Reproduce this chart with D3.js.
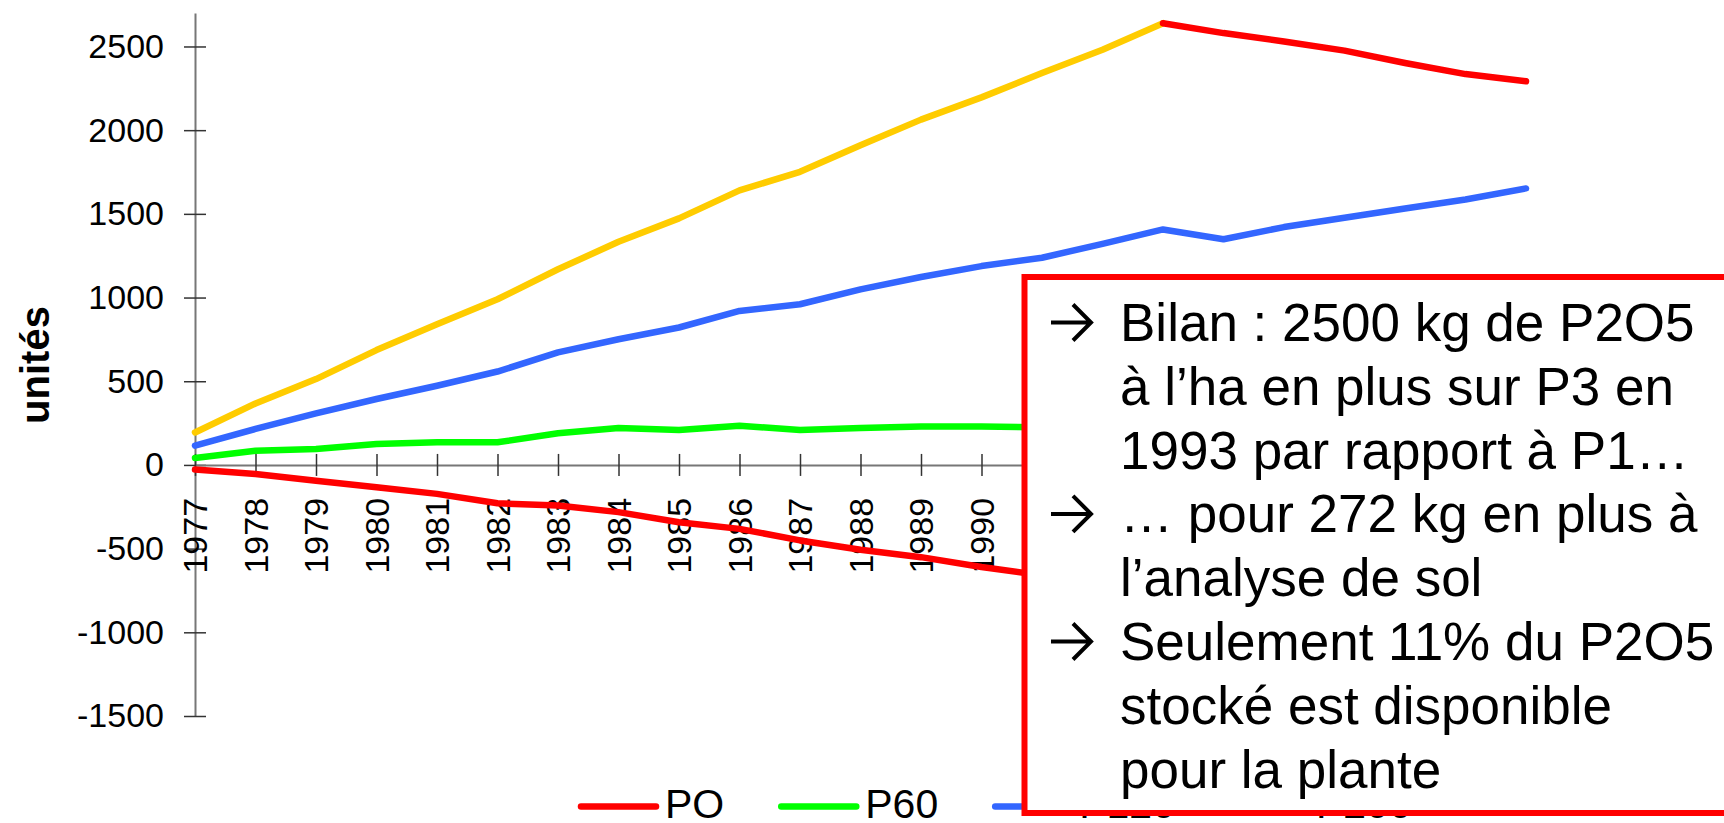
<!DOCTYPE html>
<html>
<head>
<meta charset="utf-8">
<script src="https://cdn.jsdelivr.net/npm/d3@7"></script>
<style>
  body { margin: 0; background: #fff; }
  svg text { font-family: "Liberation Sans", Arial, sans-serif; fill: #000; }
</style>
</head>
<body>
<svg id="chart" width="1724" height="823"></svg>
<script>
let svg = d3.select("#chart");

let years = d3.range(1977, 2000).map(String);
let y_ticks = [-1500, -1000, -500, 0, 500, 1000, 1500, 2000, 2500];

let series_names = ["PO", "P60", "P120", "P200"];
let series_colors = ["#ff0000", "#00ff00", "#3366ff", "#ffcc00"];

let p0 = [-28, -54, -94, -133, -173, -229, -243, -282, -342, -382, -451, -507, -551, -610,
  -660, -705, -750, -800, -845, -890, -935, -975, -1010];
let p60 = [42, 85, 95, 125, 135, 135, 189, 221, 209, 234, 209, 221, 230, 230,
  225, 230, 235, 230, 240, 238, 242, 245, 240];
let p120 = [115, 215, 308, 394, 473, 558, 672, 751, 821, 920, 960, 1049, 1123, 1188,
  1238, 1321, 1407, 1348, 1421, 1477, 1532, 1586, 1652];
let p200 = [194, 367, 513, 686, 841, 990, 1169, 1333, 1473, 1640, 1751, 1910, 2063, 2196,
  2341, 2481, 2639, 2580, 2530, 2475, 2401, 2335, 2292];

// from 1993 on the P200 line is highlighted in red
let highlight_from = "1993";
let highlight_color = "#ff0000";

let note_lines = [
  { bullet: true, text: "Bilan : 2500 kg de P2O5" },
  { bullet: false, text: "à l’ha en plus sur P3 en" },
  { bullet: false, text: "1993 par rapport à P1…" },
  { bullet: true, text: "… pour 272 kg en plus à" },
  { bullet: false, text: "l’analyse de sol" },
  { bullet: true, text: "Seulement 11% du P2O5" },
  { bullet: false, text: "stocké est disponible" },
  { bullet: false, text: "pour la plante" },
];

let all_series = [p0, p60, p120, p200];

let x_scale = d3.scalePoint()
  .domain(years)
  .range([195, 1526]);
let y_scale = d3.scaleLinear()
  .domain([-1500, 2700])
  .range([716, 13]);

// y axis, ticks crossing the line
svg.append("g")
  .attr("transform", "translate(" + x_scale(years[0]) + ",0)")
  .call(d3.axisLeft(y_scale).tickValues(y_ticks).tickFormat(d => String(d))
    .tickSizeInner(11).tickSizeOuter(0).tickPadding(20))
  .call(g => g.select(".domain").attr("stroke", "#777").attr("stroke-width", 2))
  .call(g => g.selectAll(".tick line").attr("x1", 11).attr("stroke", "#333").attr("stroke-width", 1.5))
  .call(g => g.selectAll(".tick text").style("font-size", "34px"));

// x axis at zero, rotated year labels
svg.append("g")
  .attr("transform", "translate(0," + y_scale(0) + ")")
  .call(d3.axisBottom(x_scale).tickSizeInner(11).tickSizeOuter(0))
  .call(g => g.select(".domain").attr("stroke", "#777").attr("stroke-width", 2))
  .call(g => g.selectAll(".tick line").attr("y1", -11).attr("stroke", "#333").attr("stroke-width", 1.5))
  .call(g => g.selectAll(".tick text")
    .style("font-size", "34px")
    .style("text-anchor", "end")
    .attr("transform", "rotate(-90)")
    .attr("x", -33)
    .attr("y", 0)
    .attr("dy", "0.35em"));

svg.append("text")
  .attr("transform", "translate(49,365) rotate(-90)")
  .attr("text-anchor", "middle")
  .style("font-size", "40px")
  .style("font-weight", "bold")
  .text("unités");

let line = d3.line()
  .x(d => x_scale(d[0]))
  .y(d => y_scale(d[1]));

let plot = svg.append("g").attr("class", "lines");

const drawPath = function(pts, color) {
  plot.append("path")
    .attr("d", line(pts))
    .attr("fill", "none")
    .attr("stroke", color)
    .attr("stroke-width", 6.5)
    .attr("stroke-linecap", "round")
    .attr("stroke-linejoin", "round");
}

all_series.forEach((values, i) => {
  let pts = years.map((yr, j) => [yr, values[j]]);
  if (i == 3) {
    let cut = years.indexOf(highlight_from);
    drawPath(pts.slice(0, cut + 1), series_colors[i]);
    drawPath(pts.slice(cut), highlight_color);
  } else {
    drawPath(pts, series_colors[i]);
  }
});

// legend along the bottom
let legend = svg.append("g").attr("class", "legend");
let lx = 581;
series_names.forEach((name, i) => {
  legend.append("line")
    .attr("x1", lx).attr("x2", lx + 75)
    .attr("y1", 806.5).attr("y2", 806.5)
    .attr("stroke", series_colors[i])
    .attr("stroke-width", 6.5)
    .attr("stroke-linecap", "round");
  let t = legend.append("text")
    .attr("x", lx + 84)
    .attr("y", 818)
    .style("font-size", "41px")
    .text(name);
  lx = lx + 84 + t.node().getComputedTextLength() + 57;
});

// note box on top
let note = svg.append("g").attr("class", "note");
note.append("rect")
  .attr("x", 1024.5)
  .attr("y", 277)
  .attr("width", 760)
  .attr("height", 536)
  .attr("fill", "#fff")
  .attr("stroke", "#ff0000")
  .attr("stroke-width", 6);

let base_y = 341;
let line_step = 63.8;
note_lines.forEach((d, i) => {
  let by = base_y + i * line_step;
  if (d.bullet) {
    let cy = by - 18.5;
    note.append("path")
      .attr("d", "M1051," + cy + "H1091M1073," + (cy - 18) + "L1091," + cy + "L1073," + (cy + 18))
      .attr("fill", "none")
      .attr("stroke", "#000")
      .attr("stroke-width", 4);
  }
  note.append("text")
    .attr("x", 1120)
    .attr("y", by)
    .style("font-size", "53px")
    .text(d.text);
});
</script>
</body>
</html>
